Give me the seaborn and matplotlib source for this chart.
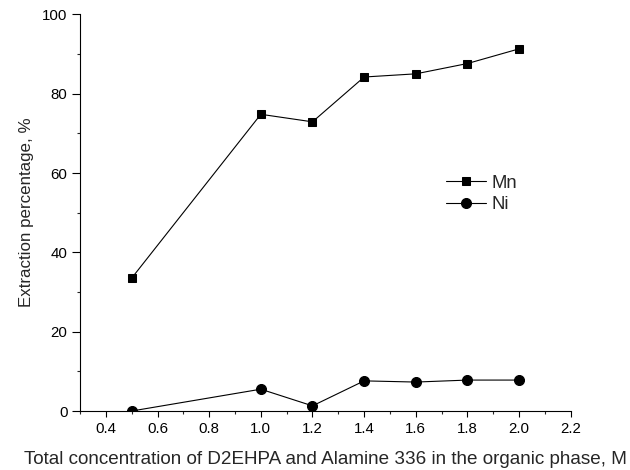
import numpy as np
import pandas as pd
import seaborn as sns
import matplotlib.pyplot as plt
from matplotlib.ticker import MultipleLocator

# concentration (M) and extraction (%)
conc = [0.5, 1.0, 1.2, 1.4, 1.6, 1.8, 2.0]
mn_extraction = [33.5, 74.8, 72.9, 84.2, 85.0, 87.6, 91.3]
ni_extraction = [0.0, 5.5, 1.3, 7.6, 7.3, 7.8, 7.8]

sns.set_style("ticks")
plt.rcParams['font.family'] = ['Liberation Sans', 'DejaVu Sans']

fig = plt.figure(figsize=(6.3, 4.7), dpi=100)
ax = fig.add_axes([0.127, 0.1255, 0.779, 0.844])

# Mn, squares
sns.lineplot(x=conc, y=mn_extraction, marker='s', markersize=6.2, color='black',
             markeredgecolor='black', linewidth=0.8, label='Mn', ax=ax)
# Ni, circles
sns.lineplot(x=conc, y=ni_extraction, marker='o', markersize=7.2, color='black',
             markeredgecolor='black', linewidth=0.8, label='Ni', ax=ax)

ax.set_xlim(0.3, 2.2)
ax.set_ylim(0, 100)
ax.xaxis.set_minor_locator(MultipleLocator(0.1))
ax.yaxis.set_major_locator(MultipleLocator(20))
ax.yaxis.set_minor_locator(MultipleLocator(10))
ticks = np.arange(0.4, 2.21, 0.2)
ax.set_xticks(ticks)
ax.set_xticklabels(['{:.1f}'.format(v) for v in ticks])
ax.tick_params(which='major', labelsize=10.8, colors='black', width=0.8)
ax.tick_params(axis='x', which='major', length=4.5)
ax.tick_params(axis='y', which='major', length=5.5)
ax.tick_params(which='minor', length=2.5, width=0.8)
sns.despine(ax=ax)
for s in ['left', 'bottom']:
    ax.spines[s].set_linewidth(0.8)
    ax.spines[s].set_color('black')

ax.set_xlabel('Total concentration of D2EHPA and Alamine 336 in the organic phase, M', fontsize=13.6)
ax.xaxis.set_label_coords(0.5, -0.102)
ax.set_ylabel('Extraction percentage, %', fontsize=12.2)
ax.yaxis.set_label_coords(-0.094, 0.5)

ax.legend(loc='center left', bbox_to_anchor=(0.745, 0.5475), frameon=False,
          fontsize=13.3, handlelength=2.2, handletextpad=0.3,
          labelspacing=0.25, borderpad=0, borderaxespad=0)

fig.savefig('out.png', dpi=100)
